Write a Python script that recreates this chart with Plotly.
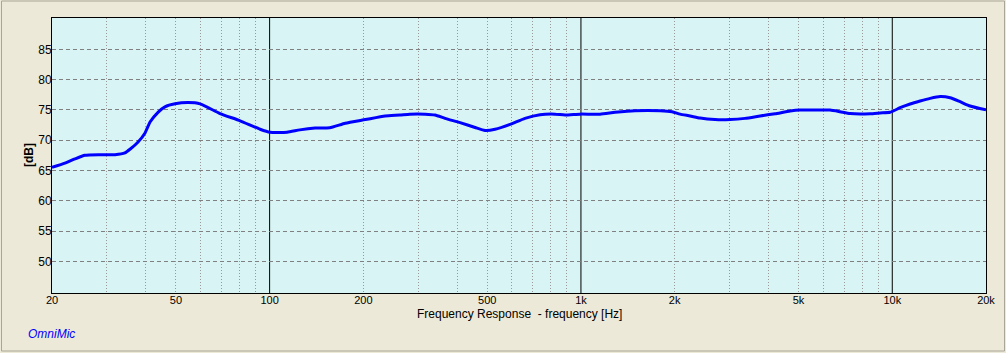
import plotly.graph_objects as go

# ---- data ----
freq_hz = [20, 22.0, 23.7, 25.5, 28.5, 31.9, 34.3, 35.6, 37.8, 39.8,
           41.3, 43.8, 46.1, 49.7, 54.7, 59.8, 69.3, 80.4, 93.2, 100.3,
           113.8, 125, 140, 156, 175, 203, 235, 262, 282, 316,
           340, 366, 409, 457, 492, 530, 592, 661, 739, 826,
           889, 993, 1152, 1287, 1492, 1796, 1962, 2082, 2242, 2414,
           2697, 3013, 3366, 3761, 4203, 4696, 5057, 6311, 6800, 7324,
           8488, 9137, 9840, 10596, 11412, 12287, 13231, 14246, 15338, 16514,
           17780, 20000]
spl_db = [65.5, 66.2, 66.9, 67.5, 67.6, 67.6, 67.9, 68.5, 69.7, 71.2,
          73.0, 74.6, 75.5, 76.0, 76.2, 76.0, 74.4, 73.2, 71.8, 71.3,
          71.3, 71.7, 72.0, 72.06, 72.8, 73.4, 74.0, 74.15, 74.3, 74.3,
          74.15, 73.6, 72.9, 72.1, 71.6, 71.8, 72.6, 73.6, 74.2, 74.3,
          74.15, 74.3, 74.3, 74.6, 74.87, 74.87, 74.7, 74.3, 74.0, 73.65,
          73.4, 73.4, 73.6, 74.0, 74.37, 74.8, 74.97, 74.97, 74.7, 74.4,
          74.37, 74.5, 74.6, 75.36, 75.97, 76.46, 76.9, 77.2, 77.0, 76.35,
          75.64, 75.0]

x_tick_vals = [20, 50, 100, 200, 500, 1000, 2000, 5000, 10000, 20000]
x_tick_text = ["20", "50", "100", "200", "500", "1k", "2k", "5k", "10k", "20k"]
x_minor_vals = [30, 40, 50, 60, 70, 80, 90,
                200, 300, 400, 500, 600, 700, 800, 900,
                2000, 3000, 4000, 5000, 6000, 7000, 8000, 9000]
x_decades = [100, 1000, 10000]
y_tick_vals = [50, 55, 60, 65, 70, 75, 80, 85]

assert len(freq_hz) == len(spl_db)

FONT = "Liberation Sans"
W, H = 1006, 353
L, R, T, B = 52, 20, 18, 60
PW, PH = W - L - R, H - T - B


def px_to_paper_x(px):
    return (px - L) / PW


def px_to_paper_y(py):
    return (H - B - py) / PH


fig = go.Figure()
fig.add_trace(go.Scatter(
    x=freq_hz, y=spl_db, mode="lines",
    line=dict(color="#0000FF", width=3, shape="spline", smoothing=0.5),
    showlegend=False, hoverinfo="skip",
))

# decade lines (solid black)
for d in x_decades:
    fig.add_shape(type="line", xref="x", yref="paper", x0=d, x1=d, y0=0, y1=1,
                  line=dict(color="black", width=1), layer="below")

# outer panel frame
fig.add_shape(type="rect", xref="paper", yref="paper",
              x0=px_to_paper_x(1.5), x1=px_to_paper_x(1004.5),
              y0=px_to_paper_y(351), y1=px_to_paper_y(1),
              line=dict(color="#A9A597", width=1))

fig.update_layout(
    width=W, height=H,
    margin=dict(l=L, r=R, t=T, b=B, pad=0),
    paper_bgcolor="#ECE9D8",
    plot_bgcolor="#D8F4F4",
    font=dict(family=FONT, size=11, color="black"),
    xaxis=dict(
        type="log", range=[1.30103, 4.30103],
        tickvals=x_tick_vals, ticktext=x_tick_text,
        showgrid=False, zeroline=False,
        showline=True, linecolor="black", linewidth=1, mirror=True,
        ticks="", ticklabelstandoff=-3, tickfont=dict(size=11, family=FONT),
        minor=dict(tickvals=x_minor_vals, showgrid=True, gridcolor="#999999",
                   griddash="1px,2px", gridwidth=1, ticks=""),
    ),
    yaxis=dict(
        range=[44.77, 90.17],
        tickvals=y_tick_vals,
        showgrid=True, gridcolor="#808080", griddash="4px,3px", gridwidth=1,
        zeroline=False,
        showline=True, linecolor="black", linewidth=1, mirror=True,
        ticks="", ticklabelstandoff=-3, tickfont=dict(size=12, family=FONT),
    ),
    annotations=[
        dict(text="<b>[dB]</b>", xref="paper", yref="paper",
             x=px_to_paper_x(29), y=px_to_paper_y(155), textangle=-90,
             showarrow=False, xanchor="center", yanchor="middle",
             font=dict(size=12, family=FONT, color="black")),
        dict(text="Frequency Response  - frequency [Hz]", xref="paper", yref="paper",
             x=px_to_paper_x(519), y=px_to_paper_y(314),
             showarrow=False, xanchor="center", yanchor="middle",
             font=dict(size=12, family=FONT, color="black")),
        dict(text="<i>OmniMic</i>", xref="paper", yref="paper",
             x=px_to_paper_x(26), y=px_to_paper_y(334),
             showarrow=False, xanchor="left", yanchor="middle",
             font=dict(size=12, family=FONT, color="#0000FF")),
    ],
)

fig.write_html("out.html")
